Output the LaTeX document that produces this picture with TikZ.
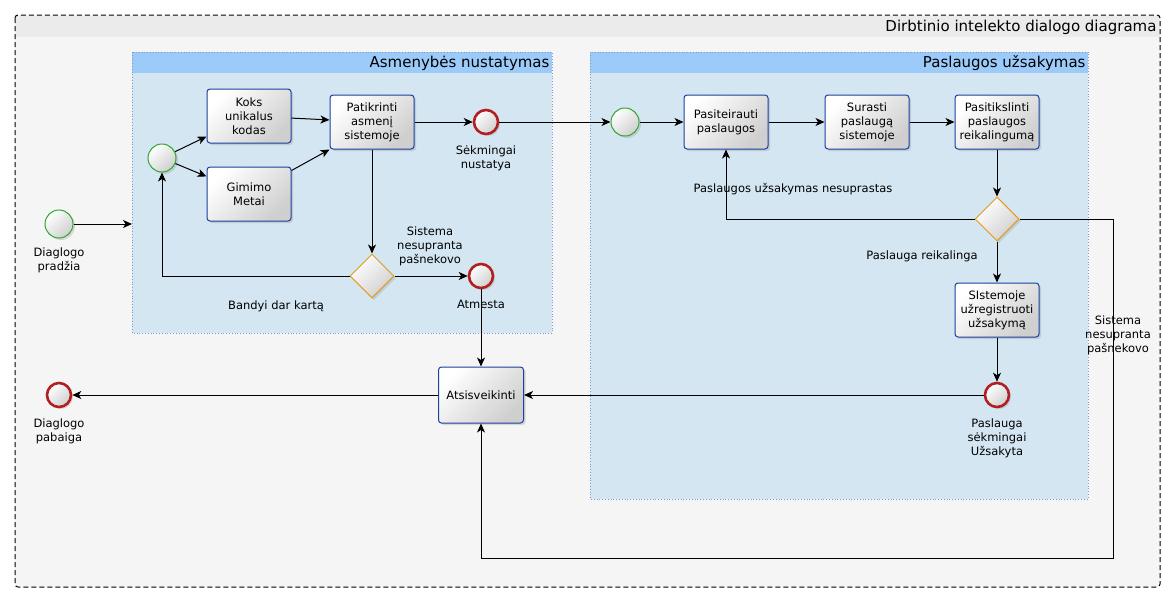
\documentclass[tikz,border=0pt]{standalone}
\usepackage{fontspec}
\setmainfont{DejaVu Sans}
\usepackage{xcolor}
\usetikzlibrary{arrows.meta}
\usetikzlibrary{shapes.geometric}
\usetikzlibrary{shadows}
\definecolor{poolbody}{HTML}{F5F5F5}
\definecolor{poolhead}{HTML}{EBEBEB}
\definecolor{lanebody}{HTML}{D4E6F1}
\definecolor{lanehead}{HTML}{9DCBF9}
\definecolor{laneline}{HTML}{7A9CC8}
\definecolor{taskline}{HTML}{1C3FA0}
\definecolor{startline}{HTML}{2EA82E}
\definecolor{endline}{HTML}{B21F1F}
\definecolor{gateline}{HTML}{E39B1C}

\begin{document}
\begin{tikzpicture}[
    x = 1pt, y = -1pt,
    line width = 1pt,
    font = \fontsize{11.5}{14}\selectfont,
    >={Stealth[length=9pt,width=8pt,inset=2.5pt]}]
    \tikzstyle{shade}=[top color=white, bottom color=gray!38, shading angle=45,
      drop shadow={opacity=0.25, shadow xshift=2pt, shadow yshift=-2pt}]
    \tikzstyle{task}=[shade,draw=taskline,rounded corners=3pt,align=center,
      minimum width=84pt,minimum height=54pt,inner sep=2pt]
    \tikzstyle{start}=[shade,draw=startline,circle,minimum size=28pt,inner sep=0pt]
    \tikzstyle{finish}=[shade,draw=endline,line width=2.6pt,circle,minimum size=24pt,inner sep=0pt]
    \tikzstyle{gate}=[shade,draw=gateline,diamond,minimum width=44pt,minimum height=44pt,inner sep=0pt]
    \tikzstyle{note}=[align=center,inner sep=0pt]
    \tikzstyle{lanetitle}=[anchor=east,inner sep=0pt,font=\fontsize{15}{17}\selectfont]
    \useasboundingbox (0,0) rectangle (1175,603);
    % pool
    \fill[poolbody,rounded corners=3pt] (15,15) rectangle (1160,587);
    \fill[poolhead] (15.5,15.5) rectangle (1159.5,37);
    \draw[dash pattern=on 5pt off 3pt,rounded corners=3pt] (15,15) rectangle (1160,587);
    \node[lanetitle] (pooltitle) at (1157,27) {Dirbtinio intelekto dialogo diagrama};
    % lanes
    \fill[lanebody] (132,52) rectangle (552,333);
    \fill[lanehead] (132,52) rectangle (552,73);
    \draw[laneline,dotted,line width=0.8pt] (132,52) rectangle (552,333);
    \node[lanetitle] (idtitle) at (550,63) {Asmenybės nustatymas};
    \fill[lanebody] (590,52) rectangle (1088,499);
    \fill[lanehead] (590,52) rectangle (1088,73);
    \draw[laneline,dotted,line width=0.8pt] (590,52) rectangle (1088,499);
    \node[lanetitle] (ordertitle) at (1086,63) {Paslaugos užsakymas};
    \coordinate (idin) at (132,224);
    % identity
    \node[start,label={[note,label distance=9pt]below:Diaglogo\\pradžia}] (s0) at (59,224) {};
    \node[start] (s1) at (162,158) {};
    \node[task] (code) at (249,116) {Koks\\unikalus\\kodas};
    \node[task] (year) at (249,194) {Gimimo\\Metai};
    \node[task] (check) at (372,122) {Patikrinti\\asmenį\\sistemoje};
    \node[finish,label={[note,label distance=10pt]below:Sėkmingai\\nustatya}] (found) at (486,122) {};
    \node[gate] (g1) at (372,276) {};
    \node[finish,label={[note,label distance=10pt]below:Atmesta}] (reject) at (481,276) {};
    \node[note] (g1no) at (430,246) {Sistema\\nesupranta\\pašnekovo};
    \node[note] (g1again) at (276,306) {Bandyi dar kartą};
    % order
    \node[start] (s2) at (625,122) {};
    \node[task] (ask) at (726,122) {Pasiteirauti\\paslaugos};
    \node[task] (find) at (867,122) {Surasti\\paslaugą\\sistemoje};
    \node[task] (need) at (997,122) {Pasitikslinti\\paslaugos\\reikalingumą};
    \node[gate] (g2) at (997,219) {};
    \node[note] (g2again) at (793,189) {Paslaugos užsakymas nesuprastas};
    \node[note] (g2yes) at (922,256) {Paslauga reikalinga};
    \node[task] (save) at (997,310) {SIstemoje\\užregistruoti\\užsakymą};
    \node[finish,label={[note,label distance=10pt]below:Paslauga\\sėkmingai\\Užsakyta}] (done) at (997,395) {};
    \node[note] (g2no) at (1118,335) {Sistema\\nesupranta\\pašnekovo};
    % ending
    \node[task,minimum width=85pt,minimum height=56pt] (bye) at (481,395) {Atsisveikinti};
    \node[finish,label={[note,label distance=10pt]below:Diaglogo\\pabaiga}] (end) at (59,395) {};
    \coordinate (around) at (1113,558);
    \path[->]
    (s0) edge (idin)
    (s1) edge (code)
         edge (year)
    (code) edge (check)
    (year) edge (check.south west)
    (check) edge (found)
            edge (g1)
    (g1) edge (reject)
    (reject) edge (bye)
    (found) edge (s2)
    (s2) edge (ask)
    (ask) edge (find)
    (find) edge (need)
    (need) edge (g2)
    (g2) edge (save)
    (save) edge (done)
    (done) edge (bye)
    (bye) edge (end) ;
    \draw[->] (g1.west) -| (s1.south);
    \draw[->] (g2.west) -| (ask.south);
    \draw[->] (g2.east) -| (around) -| (bye.south);
\end{tikzpicture}
\end{document}
